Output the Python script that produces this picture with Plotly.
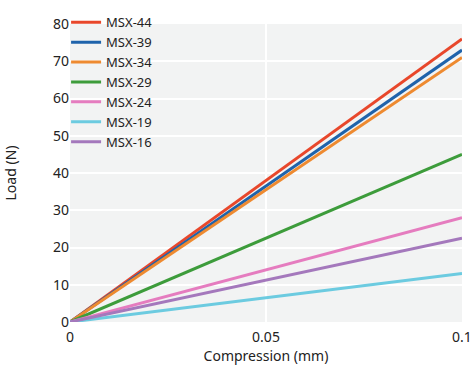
import plotly.graph_objects as go

series_names = ["MSX-44", "MSX-39", "MSX-34", "MSX-29", "MSX-24", "MSX-19", "MSX-16"]
compression = [0, 0.1]
end_loads = [76, 73, 71, 45, 28, 13, 22.5]
colors = ["#e8472b", "#1f63ab", "#ee8a30", "#3d9c3b", "#e57cbf", "#6ccbe0", "#a478bc"]

fig = go.Figure()
for name, load, color in zip(series_names, end_loads, colors):
    fig.add_trace(go.Scatter(
        x=compression, y=[0, load], mode="lines", name=name,
        line=dict(color=color, width=3),
    ))

font_family = "Noto Sans, Open Sans, sans-serif"
fig.update_layout(
    width=472, height=365,
    margin=dict(l=70, r=10, t=7, b=43),
    paper_bgcolor="white",
    plot_bgcolor="#f2f3f3",
    font=dict(family=font_family, size=14, color="#222"),
    showlegend=True,
    legend=dict(x=-0.010, y=1.056, xanchor="left", yanchor="top",
                bgcolor="rgba(0,0,0,0)", font=dict(size=13),
                itemwidth=30, tracegroupgap=0,
                borderwidth=0),
    xaxis=dict(range=[0, 0.1], tickvals=[0, 0.05, 0.1], ticktext=["0", "0.05", "0.1"],
               showgrid=True, gridcolor="white", gridwidth=1.5, zeroline=False,
               automargin=False, ticklabeloverflow="allow", ticklabelstandoff=5,
               title=dict(text="Compression (mm)", standoff=6, font=dict(size=14)),
               ticks="", showline=False, tickfont=dict(size=14)),
    yaxis=dict(range=[0, 80], dtick=10, showgrid=True, gridcolor="white", gridwidth=1.5,
               zeroline=False, automargin=False, ticklabeloverflow="allow",
               title=dict(text="Load (N)", standoff=33, font=dict(size=14)),
               ticks="", showline=False, tickfont=dict(size=14)),
)

fig.write_html("out.html", config={"displayModeBar": False},
               post_script="document.body.style.margin='0';document.body.style.padding='0';")
